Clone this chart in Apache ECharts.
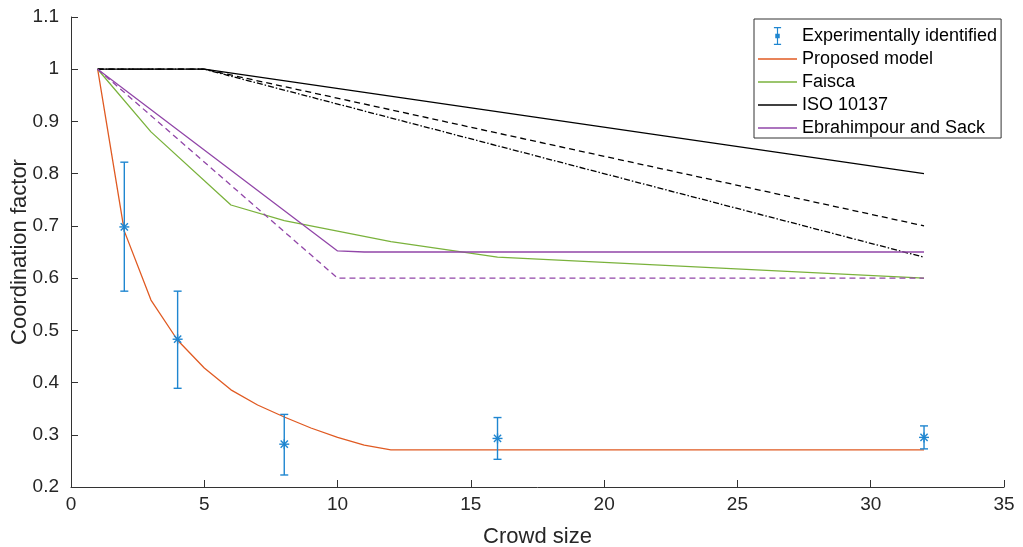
<!DOCTYPE html>
<html>
<head>
<meta charset="utf-8">
<script src="https://cdn.jsdelivr.net/npm/echarts@6/dist/echarts.min.js"></script>
<style>
  html, body { margin: 0; padding: 0; background: #fff; }
  #chart { width: 1023px; height: 547px; }
</style>
</head>
<body>
<div id="chart"></div>
<script>
// experimental points with error bars
var expX = [2, 4, 8, 16, 32];
var expMean = [0.698, 0.483, 0.282, 0.293, 0.295];
var expLow = [0.575, 0.389, 0.223, 0.253, 0.273];
var expHigh = [0.822, 0.575, 0.339, 0.333, 0.317];

// proposed model
var propX = [1, 2, 3, 4, 5, 6, 7, 8, 9, 10, 11, 12, 32];
var propY = [1.0, 0.69, 0.558, 0.481, 0.428, 0.386, 0.357, 0.334, 0.313, 0.295, 0.28, 0.271, 0.271];

// Faisca
var faiscaX = [1, 3, 6, 8, 10, 12, 16, 32];
var faiscaY = [1.0, 0.88, 0.74, 0.71, 0.69, 0.67, 0.64, 0.60];

// ISO 10137 (solid, dashed, dash-dot)
var isoX = [1, 5, 32];
var isoSolid = [1.0, 1.0, 0.80];
var isoDashed = [1.0, 1.0, 0.70];
var isoDashDot = [1.0, 1.0, 0.64];

// Ebrahimpour and Sack (solid, dashed)
var ebX = [1, 10, 11, 32];
var ebSolid = [1.0, 0.652, 0.65, 0.65];
var ebDashedX = [1, 10, 32];
var ebDashed = [1.0, 0.60, 0.60];

var xTicks = { min: 0, max: 35, interval: 5 };
var yTicks = { min: 0.2, max: 1.1, interval: 0.1 };

function pairs(xs, ys) {
  return xs.map(function (x, i) { return [x, ys[i]]; });
}

var font = '"Liberation Sans", Arial, sans-serif';
var textColor = '#262626';
var blue = '#1f86d0';
var orange = '#e05a22';
var green = '#7ab23c';
var purple = '#9146a8';

var lineIcon = 'path://M0,0h40v1.4h-40z';
var errIcon = 'path://M1,0h8v1.3h-8zM1,18.7h8v1.3h-8zM4.35,0h1.3v20h-1.3zM2.5,7.5h5v5h-5z';

var chart = echarts.init(document.getElementById('chart'));

function lineSeries(name, xs, ys, color, dash) {
  return {
    name: name,
    type: 'line',
    data: pairs(xs, ys),
    symbol: 'none',
    color: color,
    lineStyle: { color: color, width: 1.3, type: dash || 'solid' },
    z: 2
  };
}

var option = {
  animation: false,
  backgroundColor: '#fff',
  grid: { left: 71, right: 19, top: 17, bottom: 60, outerBoundsMode: 'none', containLabel: false },
  legend: {
    orient: 'vertical',
    left: 754,
    top: 19,
    padding: [8, 4, 1, 4],
    itemWidth: 39,
    itemHeight: 18,
    itemGap: 5,
    borderColor: '#333',
    borderWidth: 1,
    backgroundColor: '#fff',
    textStyle: { fontFamily: font, fontSize: 18, color: '#000' },
    selectedMode: false,
    data: [
      { name: 'Experimentally identified', icon: errIcon },
      { name: 'Proposed model', icon: lineIcon },
      { name: 'Faisca', icon: lineIcon },
      { name: 'ISO 10137', icon: lineIcon },
      { name: 'Ebrahimpour and Sack', icon: lineIcon }
    ]
  },
  xAxis: {
    type: 'value',
    min: xTicks.min, max: xTicks.max, interval: xTicks.interval,
    name: 'Crowd size',
    nameLocation: 'middle',
    nameGap: 39,
    nameMoveOverlap: false,
    nameTextStyle: { fontFamily: font, fontSize: 22, color: textColor },
    axisLine: { lineStyle: { color: '#333', width: 1 } },
    axisTick: { inside: true, length: 7, lineStyle: { color: '#333' } },
    axisLabel: { fontFamily: font, fontSize: 19, color: textColor, margin: 8 },
    splitLine: { show: false }
  },
  yAxis: {
    type: 'value',
    min: yTicks.min, max: yTicks.max, interval: yTicks.interval,
    name: 'Coordination factor',
    nameLocation: 'middle',
    nameGap: 40,
    nameMoveOverlap: false,
    nameTextStyle: { fontFamily: font, fontSize: 22, color: textColor },
    axisLine: { show: true, lineStyle: { color: '#333', width: 1 } },
    axisTick: { show: true, inside: true, length: 7, lineStyle: { color: '#333' } },
    axisLabel: {
      fontFamily: font, fontSize: 19, color: textColor, margin: 12,
      formatter: function (v) { return String(Math.round(v * 10) / 10); }
    },
    splitLine: { show: false }
  },
  series: [
    {
      name: 'Experimentally identified',
      type: 'custom',
      color: blue,
      itemStyle: { color: blue },
      data: expX.map(function (x, i) { return [x, expMean[i], expLow[i], expHigh[i]]; }),
      encode: { x: 0, y: [1, 2, 3] },
      z: 3,
      renderItem: function (params, api) {
        var x = api.value(0);
        var c = api.coord([x, api.value(1)]);
        var lo = api.coord([x, api.value(2)]);
        var hi = api.coord([x, api.value(3)]);
        var cap = 4, r = 5, d = 3.6;
        var st = { stroke: blue, lineWidth: 1.4, fill: null };
        return {
          type: 'group',
          children: [
            { type: 'line', shape: { x1: lo[0], y1: lo[1], x2: hi[0], y2: hi[1] }, style: st },
            { type: 'line', shape: { x1: lo[0] - cap, y1: lo[1], x2: lo[0] + cap, y2: lo[1] }, style: st },
            { type: 'line', shape: { x1: hi[0] - cap, y1: hi[1], x2: hi[0] + cap, y2: hi[1] }, style: st },
            { type: 'line', shape: { x1: c[0] - r, y1: c[1], x2: c[0] + r, y2: c[1] }, style: st },
            { type: 'line', shape: { x1: c[0], y1: c[1] - r, x2: c[0], y2: c[1] + r }, style: st },
            { type: 'line', shape: { x1: c[0] - d, y1: c[1] - d, x2: c[0] + d, y2: c[1] + d }, style: st },
            { type: 'line', shape: { x1: c[0] - d, y1: c[1] + d, x2: c[0] + d, y2: c[1] - d }, style: st }
          ]
        };
      }
    },
    lineSeries('Proposed model', propX, propY, orange),
    lineSeries('Faisca', faiscaX, faiscaY, green),
    lineSeries('ISO 10137', isoX, isoSolid, '#000'),
    lineSeries('ISO 10137 dashed', isoX, isoDashed, '#000', [6, 4]),
    lineSeries('ISO 10137 dash-dot', isoX, isoDashDot, '#000', [6, 2, 1.5, 2]),
    lineSeries('Ebrahimpour and Sack', ebX, ebSolid, purple),
    lineSeries('Ebrahimpour and Sack dashed', ebDashedX, ebDashed, purple, [6, 4])
  ]
};

chart.setOption(option);
</script>
</body>
</html>
